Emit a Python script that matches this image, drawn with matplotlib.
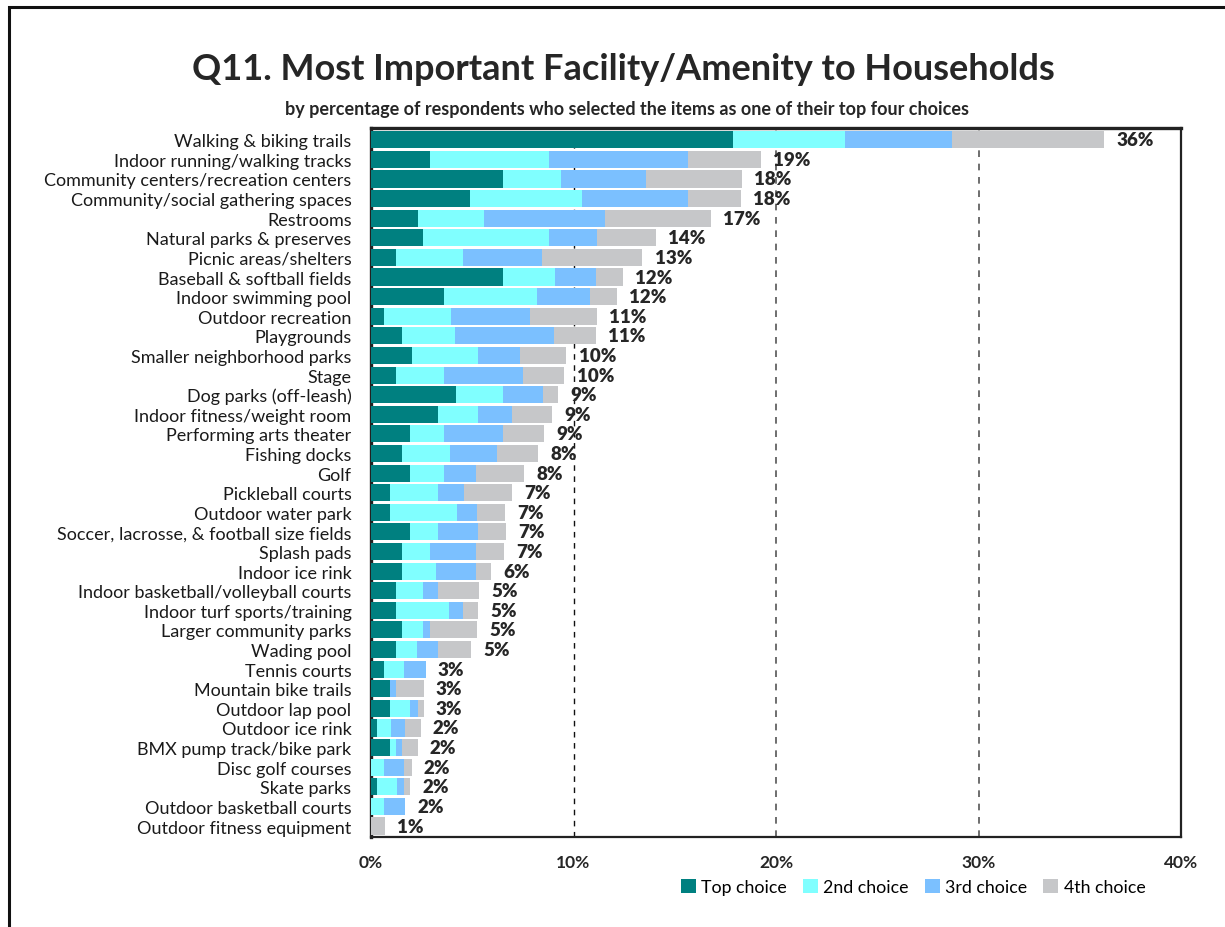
import matplotlib
matplotlib.use("Agg")
import matplotlib.pyplot as plt
from matplotlib.patches import Rectangle
import numpy as np

categories = [
    "Walking & biking trails", "Indoor running/walking tracks",
    "Community centers/recreation centers", "Community/social gathering spaces",
    "Restrooms", "Natural parks & preserves", "Picnic areas/shelters",
    "Baseball & softball fields", "Indoor swimming pool", "Outdoor recreation",
    "Playgrounds", "Smaller neighborhood parks", "Stage", "Dog parks (off-leash)",
    "Indoor fitness/weight room", "Performing arts theater", "Fishing docks", "Golf",
    "Pickleball courts", "Outdoor water park", "Soccer, lacrosse, & football size fields",
    "Splash pads", "Indoor ice rink", "Indoor basketball/volleyball courts",
    "Indoor turf sports/training", "Larger community parks", "Wading pool",
    "Tennis courts", "Mountain bike trails", "Outdoor lap pool", "Outdoor ice rink",
    "BMX pump track/bike park", "Disc golf courses", "Skate parks",
    "Outdoor basketball courts", "Outdoor fitness equipment",
]

top_choice = [17.9, 2.9, 6.5, 4.9, 2.3, 2.55, 1.25, 6.5, 3.6, 0.65, 1.55, 2.0, 1.25,
              4.2, 3.3, 1.95, 1.55, 1.95, 0.95, 0.95, 1.95, 1.55, 1.55, 1.25, 1.25,
              1.55, 1.25, 0.65, 0.95, 0.95, 0.3, 0.95, 0.0, 0.3, 0.0, 0.0]
second_choice = [5.5, 5.9, 2.9, 5.5, 3.3, 6.25, 3.3, 2.6, 4.6, 3.3, 2.6, 3.3, 2.35,
                 2.3, 2.0, 1.65, 2.35, 1.65, 2.35, 3.3, 1.35, 1.35, 1.65, 1.3, 2.6,
                 1.0, 1.0, 1.0, 0.0, 1.0, 0.7, 0.3, 0.65, 1.0, 0.65, 0.0]
third_choice = [5.3, 6.85, 4.2, 5.25, 5.95, 2.35, 3.9, 2.0, 2.6, 3.9, 4.9, 2.05, 3.9,
                2.0, 1.65, 2.9, 2.3, 1.6, 1.3, 1.0, 2.0, 2.3, 2.0, 0.75, 0.7,
                0.35, 1.05, 1.05, 0.3, 0.35, 0.7, 0.3, 1.0, 0.35, 1.05, 0.0]
fourth_choice = [7.5, 3.6, 4.7, 2.6, 5.25, 2.9, 4.95, 1.35, 1.35, 3.3, 2.05, 2.3, 2.05,
                 0.75, 2.0, 2.05, 2.05, 2.35, 2.35, 1.35, 1.35, 1.35, 0.75, 2.05, 0.75,
                 2.35, 1.65, 0.0, 1.35, 0.3, 0.75, 0.75, 0.35, 0.3, 0.0, 0.7]
total_labels = ["36%", "19%", "18%", "18%", "17%", "14%", "13%", "12%", "12%", "11%",
                "11%", "10%", "10%", "9%", "9%", "9%", "8%", "8%", "7%", "7%", "7%",
                "7%", "6%", "5%", "5%", "5%", "5%", "3%", "3%", "3%", "2%", "2%", "2%",
                "2%", "2%", "1%"]
series_names = ["Top choice", "2nd choice", "3rd choice", "4th choice"]
x_ticks = [0, 10, 20, 30, 40]
x_tick_labels = ["0%", "10%", "20%", "30%", "40%"]

colors = ["#008080", "#80FFFF", "#7BC0FF", "#C6C7C9"]
FONT = ["Lato", "DejaVu Sans"]
plt.rcParams["font.family"] = FONT

W, H = 1225, 928
fig = plt.figure(figsize=(W / 100, H / 100), dpi=100)
ax = fig.add_axes([371 / W, 1 - 838 / H, (1181 - 371) / W, (838 - 129) / H])

y = np.arange(len(categories))
series = [top_choice, second_choice, third_choice, fourth_choice]
left = np.zeros(len(categories))
for vals, col, name in zip(series, colors, series_names):
    v = np.array(vals)
    ax.barh(y, v, left=left, height=0.87, color=col, label=name, zorder=3)
    left += v

for yi, tot, lab in zip(y, left, total_labels):
    ax.text(tot + 0.6, yi, lab, va="center", ha="left", fontsize=13.5,
            fontweight="heavy", color="#262626", zorder=5)

ax.axvline(10, color="#111111", linestyle=(0, (4, 4)), linewidth=1.0, zorder=1)
for gx in (20, 30):
    ax.axvline(gx, color="#555555", linestyle=(0, (4, 4)), linewidth=1.2, zorder=1)

ax.set_xlim(0, 40)
ax.set_ylim(len(categories) - 1 + 0.56, -0.6)
ax.set_yticks(y)
ax.set_yticklabels(categories, fontsize=13, color="#1a1a1a")
ax.set_xticks(x_ticks)
ax.set_xticklabels(x_tick_labels, fontsize=12.5, fontweight="bold", color="#262626")
ax.tick_params(axis="y", length=0, pad=14)
ax.tick_params(axis="x", length=0, pad=12)
for s in ax.spines.values():
    s.set_color("#222222")
    s.set_linewidth(1.6)
ax.spines["left"].set_linewidth(2.4)
ax.spines["top"].set_linewidth(2.4)

fig.text(623 / W, 1 - 70 / H, "Q11. Most Important Facility/Amenity to Households",
         ha="center", va="center", fontsize=26, fontweight="bold", color="#262626")
fig.text(627 / W, 1 - 110 / H,
         "by percentage of respondents who selected the items as one of their top four choices",
         ha="center", va="center", fontsize=13, fontweight="bold", color="#262626")

fig.legend(loc="center", bbox_to_anchor=(913 / W, 1 - 888 / H), ncol=4, frameon=False,
           fontsize=12.8, handlelength=0.85, handleheight=0.85, handletextpad=0.3,
           columnspacing=0.9, borderaxespad=0)

fig.patches.append(Rectangle((9 / W, -0.1), 1.2, 1 - 8 / H + 0.1, transform=fig.transFigure,
                             fill=False, edgecolor="#111111", linewidth=2.2))

fig.savefig("out.png", dpi=100)
